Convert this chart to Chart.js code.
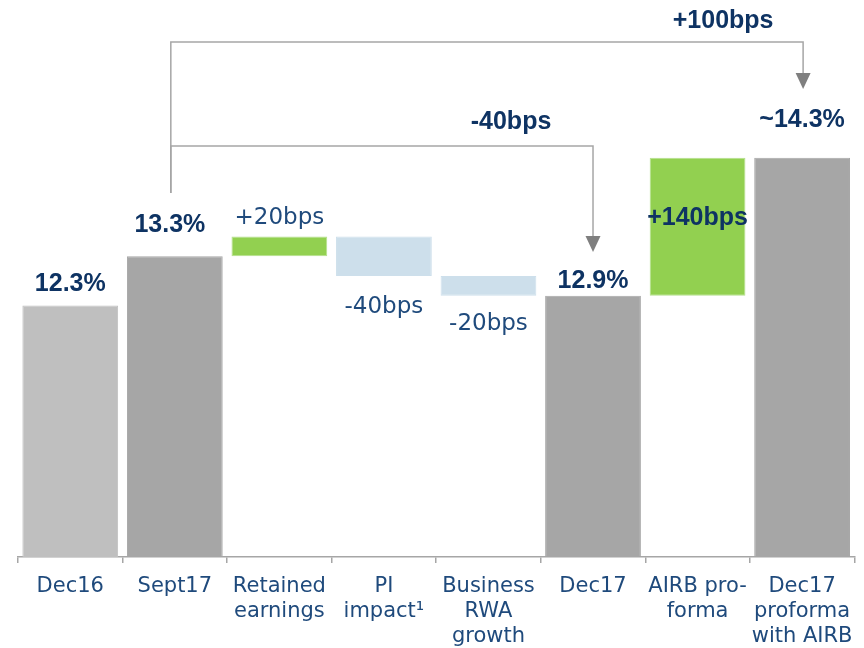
<!DOCTYPE html>
<html>
<head>
<meta charset="utf-8">
<script src="https://cdn.jsdelivr.net/npm/chart.js@4/dist/chart.umd.min.js"></script>
<style>
  html, body { margin: 0; background: #fff; }
  #wrap { width: 864px; height: 648px; }
</style>
</head>
<body>
<div id="wrap"><canvas id="c"></canvas></div>
<script>
// --- data ---
const categories = [
    ['Dec16'], ['Sept17'], ['Retained', 'earnings'], ['PI', 'impact\u00b9'],
    ['Business', 'RWA', 'growth'], ['Dec17'], ['AIRB pro-', 'forma'], ['Dec17', 'proforma', 'with AIRB']
];
// null start = bar grows from the axis floor
const barStart = [null, null, 13.3, 13.5, 13.1, null, 12.9, null];
const barEnd = [12.8, 13.3, 13.5, 13.1, 12.9, 12.9, 14.3, 14.3];
const barKind = ['base', 'total', 'up', 'down', 'down', 'total', 'up', 'total'];
const valueLabels = ['12.3%', '13.3%', '+20bps', '-40bps', '-20bps', '12.9%', '+140bps', '~14.3%'];
const bridgeFrom = [1, 1];
const bridgeTo = [7, 5];
const bridgeLabels = ['+100bps', '-40bps'];

const Y_MIN = 10.25;
const Y_MAX = 15.9;

const kindColor = { base: '#bfbfbf', total: '#a6a6a6', up: '#92d050', down: '#cddfeb' };
const kindBorder = { base: '#bfbfbf', total: '#a6a6a6', up: '#b4e08c', down: '#cddfeb' };

/**
 * 値ラベルとブリッジ矢印
 */
const waterfallLabels = {
    id: 'waterfallLabels',
    afterDatasetsDraw(chart, args, opts) {
        const ctx = chart.ctx;
        const meta = chart.getDatasetMeta(0);
        const xs = chart.scales.x;
        ctx.save();
        ctx.textAlign = 'center';
        ctx.textBaseline = 'alphabetic';

        meta.data.forEach((bar, i) => {
            const s = opts.styles[i];
            const top = Math.min(bar.y, bar.base);
            const bottom = Math.max(bar.y, bar.base);
            let ty;
            if (s.at === 'above') ty = top - s.gap;
            else if (s.at === 'below') ty = bottom + s.gap;
            else ty = (top + bottom) / 2 + s.gap;
            ctx.font = s.bold ? opts.boldFont : opts.plainFont;
            ctx.fillStyle = s.bold ? opts.boldColor : opts.plainColor;
            ctx.fillText(valueLabels[i], bar.x + (s.dx || 0), ty);
        });

        // brackets
        bridgeLabels.forEach((label, k) => {
            const b = opts.bridges[k];
            const x0 = xs.getPixelForValue(bridgeFrom[k]) + b.dx0;
            const x1 = xs.getPixelForValue(bridgeTo[k]) + b.dx1;
            ctx.strokeStyle = opts.lineColor;
            ctx.lineWidth = 1.5;
            ctx.beginPath();
            ctx.moveTo(x0, b.startY);
            ctx.lineTo(x0, b.level);
            ctx.lineTo(x1, b.level);
            ctx.lineTo(x1, b.tipY - 14);
            ctx.stroke();
            ctx.fillStyle = opts.arrowColor;
            ctx.beginPath();
            ctx.moveTo(x1 - 7.5, b.tipY - 16);
            ctx.lineTo(x1 + 7.5, b.tipY - 16);
            ctx.lineTo(x1, b.tipY);
            ctx.closePath();
            ctx.fill();
            ctx.font = opts.boldFont;
            ctx.fillStyle = opts.boldColor;
            ctx.fillText(label, x1 + b.labelDx, b.labelY);
        });
        ctx.restore();
    }
};

new Chart(document.getElementById('c'), {
    type: 'bar',
    data: {
        labels: categories,
        datasets: [{
            data: barEnd.map((e, i) => [barStart[i] === null ? Y_MIN : barStart[i], e]),
            backgroundColor: barKind.map(k => kindColor[k]),
            borderColor: barKind.map(k => kindBorder[k]),
            borderWidth: 1,
            borderSkipped: false,
            barPercentage: 0.916,
            categoryPercentage: 1
        }]
    },
    options: {
        responsive: true,
        maintainAspectRatio: false,
        animation: false,
        layout: { padding: { left: 18, right: 8, top: 0, bottom: 0 } },
        plugins: {
            legend: { display: false },
            tooltip: { enabled: false },
            waterfallLabels: {
                boldFont: 'bold 25px "Liberation Sans"',
                plainFont: '23px "DejaVu Sans"',
                boldColor: '#0e3363',
                plainColor: '#1f4a7c',
                lineColor: '#a6a6a6',
                arrowColor: '#7f7f7f',
                styles: [
                    { at: 'above', gap: 15, bold: true },
                    { at: 'above', gap: 24, bold: true, dx: -5 },
                    { at: 'above', gap: 13, bold: false },
                    { at: 'below', gap: 37, bold: false },
                    { at: 'below', gap: 34, bold: false },
                    { at: 'above', gap: 8, bold: true },
                    { at: 'inside', gap: -2, bold: true },
                    { at: 'above', gap: 31, bold: true }
                ],
                bridges: [
                    { startY: 193, level: 42, tipY: 89, dx0: -4, dx1: 1, labelDx: -80, labelY: 28 },
                    { startY: 193, level: 146, tipY: 252, dx0: -4, dx1: 0, labelDx: -82, labelY: 129 }
                ]
            }
        },
        scales: {
            x: {
                afterFit(scale) { scale.height = 91; },
                grid: {
                    display: true,
                    drawOnChartArea: false,
                    drawTicks: true,
                    tickLength: 6,
                    offset: true,
                    color: '#a6a6a6',
                    lineWidth: 1.5
                },
                border: { display: true, color: '#a6a6a6', width: 1.5 },
                ticks: {
                    color: '#1f4a7c',
                    padding: 11,
                    maxRotation: 0,
                    autoSkip: false,
                    font: { family: 'DejaVu Sans', size: 21, lineHeight: 1.19 }
                }
            },
            y: { display: false, min: Y_MIN, max: Y_MAX }
        }
    },
    plugins: [waterfallLabels]
});
</script>
</body>
</html>
